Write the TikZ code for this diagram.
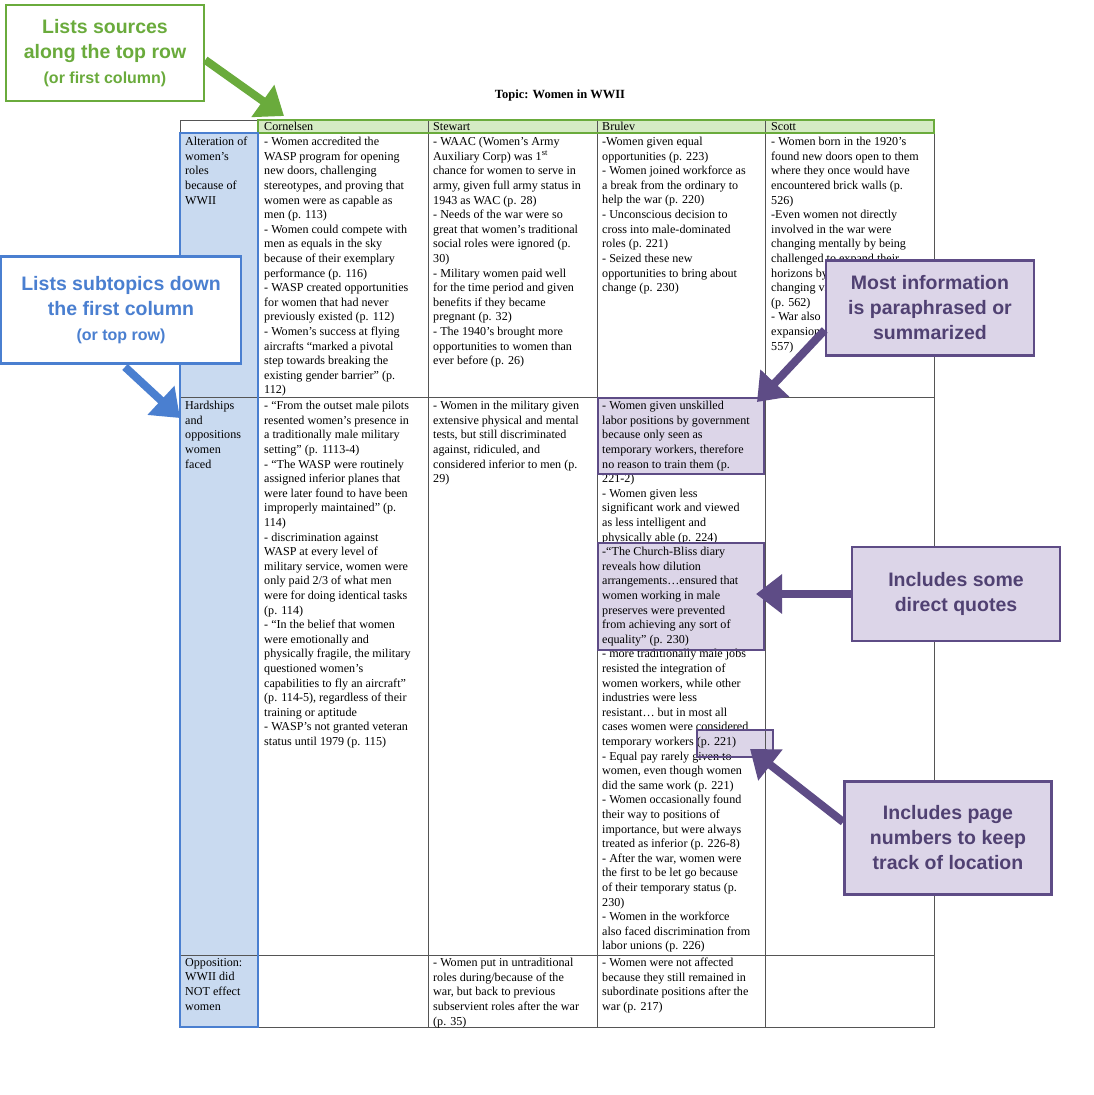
\documentclass[tikz,border=0pt]{standalone}
\usepackage{fontspec}
\setmainfont{Liberation Serif}
\newfontfamily\calloutfont{Liberation Sans}
\usetikzlibrary{positioning, arrows.meta}
\definecolor{srcgreen}{HTML}{6AAB3C}
\definecolor{srcgreenfill}{HTML}{D5EBC4}
\definecolor{subblue}{HTML}{4A7FD0}
\definecolor{subbluefill}{HTML}{C9DAF0}
\definecolor{notepurple}{HTML}{5E4C86}
\definecolor{notefill}{HTML}{DCD5E8}
\definecolor{gridgray}{HTML}{555555}
\tikzset{
        cell/.style={anchor=north west, inner sep=0pt, align=left,
            font=\fontsize{12.1}{14.6}\selectfont},
        grid-line/.style={draw=gridgray, line width=0.8pt},
        callout/.style={draw, line width=2.5pt, fill=white, align=center,
            font=\calloutfont\bfseries\fontsize{19.5}{25}\selectfont},
        src-callout/.style={callout, draw=srcgreen, text=srcgreen},
        sub-callout/.style={callout, draw=subblue, text=subblue},
        note-callout/.style={callout, draw=notepurple, fill=notefill, text=notepurple!85!black},
        big-arrow/.style={line width=8pt, -{Triangle[length=26pt,width=38pt]}},
}
\begin{document}
\begin{tikzpicture}[x=1pt, y=-1pt]
        \useasboundingbox[fill=white] (0,0) rectangle (1093,1095);

        % TITLE
        \node[font=\bfseries\fontsize{12.5}{15}\selectfont] (title) at (560,95) {Topic: Women in WWII};

        % HEADER ROW AND FIRST COLUMN
        \fill[srcgreenfill] (258,120) rectangle (934,133);
        \fill[subbluefill] (180,133) rectangle (258,1027);

        % HIGHLIGHTS
        \fill[notefill] (598,398) rectangle (764,474);
        \fill[notefill] (598,543) rectangle (764,650);
        \fill[notefill] (697,730) rectangle (773,757);

        % GRID
        \draw[grid-line] (180,120) rectangle (934,1027);
        \foreach \y in {133,397,955} \draw[grid-line] (180,\y) -- (934,\y);
        \foreach \x in {428,597,765} \draw[grid-line] (\x,120) -- (\x,1027);
        \draw[srcgreen, line width=2.5pt] (258,120) rectangle (934,133);
        \draw[subblue, line width=2.5pt] (180,133) rectangle (258,1027);

        % HEADERS
        \node[cell] (hcor) at (264,122) {Cornelsen};
        \node[cell] (hste) at (433,122) {Stewart};
        \node[cell] (hbru) at (602,122) {Brulev};
        \node[cell] (hsco) at (771,122) {Scott};

        % ROW LABELS
        \node[cell] (rowa) at (185,137) {Alteration of\\women's\\roles\\because of\\WWII};
        \node[cell] (rowb) at (185,401) {Hardships\\and\\oppositions\\women\\faced};
        \node[cell] (rowc) at (185,958) {Opposition:\\WWII did\\NOT effect\\women};

        % ROW 1
        \node[cell] (a1) at (264,137) {- Women accredited the\\WASP program for opening\\new doors, challenging\\stereotypes, and proving that\\women were as capable as\\men (p. 113)\\- Women could compete with\\men as equals in the sky\\because of their exemplary\\performance (p. 116)\\- WASP created opportunities\\for women that had never\\previously existed (p. 112)\\- Women's success at flying\\aircrafts ``marked a pivotal\\step towards breaking the\\existing gender barrier'' (p.\\112)};
        \node[cell] (a2) at (433,137) {- WAAC (Women's Army\\Auxiliary Corp) was 1\textsuperscript{st}\\chance for women to serve in\\army, given full army status in\\1943 as WAC (p. 28)\\- Needs of the war were so\\great that women's traditional\\social roles were ignored (p.\\30)\\- Military women paid well\\for the time period and given\\benefits if they became\\pregnant (p. 32)\\- The 1940's brought more\\opportunities to women than\\ever before (p. 26)};
        \node[cell] (a3) at (602,137) {-Women given equal\\opportunities (p. 223)\\- Women joined workforce as\\a break from the ordinary to\\help the war (p. 220)\\- Unconscious decision to\\cross into male-dominated\\roles (p. 221)\\- Seized these new\\opportunities to bring about\\change (p. 230)};
        \node[cell] (a4) at (771,137) {- Women born in the 1920's\\found new doors open to them\\where they once would have\\encountered brick walls (p.\\526)\\-Even women not directly\\involved in the war were\\changing mentally by being\\challenged to expand their\\horizons by\\changing views\\(p. 562)\\- War also\\expansion\\557)};

        % ROW 2
        \node[cell] (b1) at (264,401) {- ``From the outset male pilots\\resented women's presence in\\a traditionally male military\\setting'' (p. 1113-4)\\- ``The WASP were routinely\\assigned inferior planes that\\were later found to have been\\improperly maintained'' (p.\\114)\\- discrimination against\\WASP at every level of\\military service, women were\\only paid 2/3 of what men\\were for doing identical tasks\\(p. 114)\\- ``In the belief that women\\were emotionally and\\physically fragile, the military\\questioned women's\\capabilities to fly an aircraft''\\(p. 114-5), regardless of their\\training or aptitude\\- WASP's not granted veteran\\status until 1979 (p. 115)};
        \node[cell] (b2) at (433,401) {- Women in the military given\\extensive physical and mental\\tests, but still discriminated\\against, ridiculed, and\\considered inferior to men (p.\\29)};
        \node[cell] (b3) at (602,401) {- Women given unskilled\\labor positions by government\\because only seen as\\temporary workers, therefore\\no reason to train them (p.\\221-2)\\- Women given less\\significant work and viewed\\as less intelligent and\\physically able (p. 224)\\-``The Church-Bliss diary\\reveals how dilution\\arrangements\ldots ensured that\\women working in male\\preserves were prevented\\from achieving any sort of\\equality'' (p. 230)\\- more traditionally male jobs\\resisted the integration of\\women workers, while other\\industries were less\\resistant\ldots\ but in most all\\cases women were considered\\temporary workers (p. 221)\\- Equal pay rarely given to\\women, even though women\\did the same work (p. 221)\\- Women occasionally found\\their way to positions of\\importance, but were always\\treated as inferior (p. 226-8)\\- After the war, women were\\the first to be let go because\\of their temporary status (p.\\230)\\- Women in the workforce\\also faced discrimination from\\labor unions (p. 226)};

        % ROW 3
        \node[cell] (c2) at (433,958) {- Women put in untraditional\\roles during/because of the\\war, but back to previous\\subservient roles after the war\\(p. 35)};
        \node[cell] (c3) at (602,958) {- Women were not affected\\because they still remained in\\subordinate positions after the\\war (p. 217)};

        % HIGHLIGHT OUTLINES
        \draw[notepurple, line width=2pt] (598,398) rectangle (764,474);
        \draw[notepurple, line width=2pt] (598,543) rectangle (764,650);
        \draw[notepurple, line width=2pt] (697,730) rectangle (773,757);
        \coordinate (hl1) at (757,402);
        \coordinate (hl2) at (756,594);
        \coordinate (hl3) at (750,749);
        \coordinate (hdr) at (284,116);
        \coordinate (col) at (180,418);

        % CALLOUTS
        \node[src-callout, minimum width=198pt, minimum height=96pt] (srcs) at (105,53) {Lists sources\\along the top row\\{\fontsize{16}{20}\selectfont (or first column)}};
        \node[sub-callout, minimum width=240pt, minimum height=107pt] (subs) at (121,310) {Lists subtopics down\\the first column\\{\fontsize{16}{20}\selectfont (or top row)}};
        \node[note-callout, minimum width=208pt, minimum height=95pt] (para) at (930,308) {Most information\\is paraphrased or\\summarized};
        \node[note-callout, minimum width=208pt, minimum height=94pt] (quot) at (956,594) {Includes some\\direct quotes};
        \node[note-callout, minimum width=207pt, minimum height=113pt] (page) at (948,838) {Includes page\\numbers to keep\\track of location};

        % ARROWS
        \draw[big-arrow, srcgreen] (srcs.east |- 0,60) -- (hdr);
        \draw[big-arrow, subblue] (125,367) -- (col);
        \draw[big-arrow, notepurple] (para.west |- 0,330) -- (hl1);
        \draw[big-arrow, notepurple] (quot.west) -- (hl2);
        \draw[big-arrow, notepurple] (page.west |- 0,822) -- (hl3);

\end{tikzpicture}
\end{document}
